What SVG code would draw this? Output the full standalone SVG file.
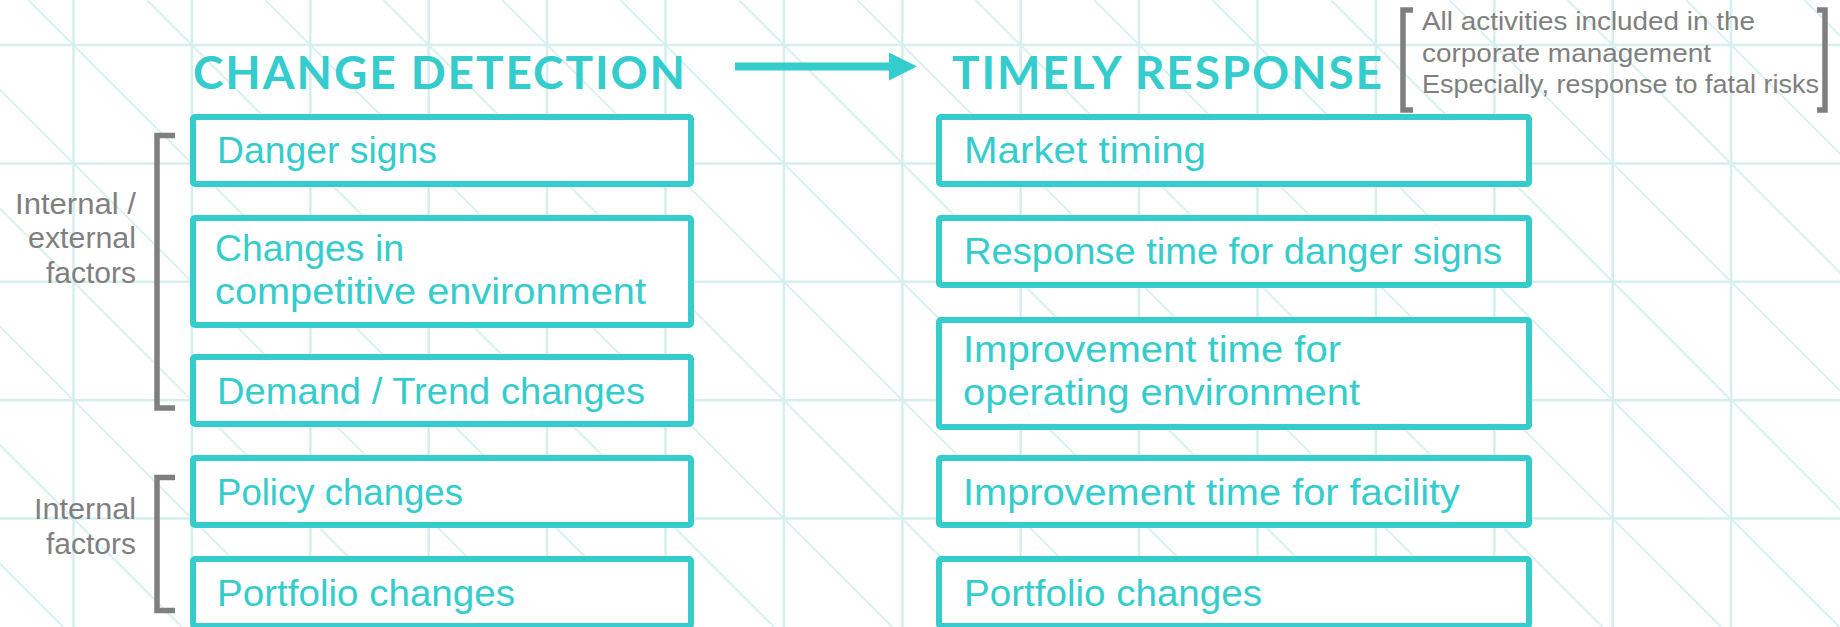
<svg xmlns="http://www.w3.org/2000/svg" width="1840" height="627" viewBox="0 0 1840 627">
  <style>
    .grid { stroke: #d4efed; stroke-width: 2.5; fill: none; }
    .diag { stroke: #daf1ef; stroke-width: 2; fill: none; }
    .box { fill: #ffffff; stroke: #34cccc; stroke-width: 6; }
    .title { font-family: Lato, "Noto Sans", sans-serif; font-weight: 700; font-size: 46px; fill: #34cccc; }
    .item { font-family: "Liberation Sans", Arial, sans-serif; font-size: 36px; fill: #34cccc; }
    .lbl { font-family: "Liberation Sans", Arial, sans-serif; font-size: 29px; fill: #7f7f7f; text-anchor: end; }
    .note { font-family: "Liberation Sans", Arial, sans-serif; font-size: 26px; fill: #7f7f7f; }
    .brk { fill: none; stroke: #7f7f7f; stroke-width: 5.5; stroke-linejoin: miter; }
    .conn { fill: none; stroke: #34cccc; stroke-width: 8; }
  </style>
  <defs>
    <marker id="ah" viewBox="0 0 28 28" markerUnits="userSpaceOnUse" markerWidth="28" markerHeight="28" refX="1" refY="14" orient="auto">
      <path d="M0,0 L28,14 L0,28 z" fill="#34cccc"/>
    </marker>
  </defs>
  <rect width="1840" height="627" fill="#ffffff"/>
  <g id="background-grid">
    <path class="diag" d="M-563.5 0 L63.5 627 M-445.1 0 L181.9 627 M-326.7 0 L300.3 627 M-208.3 0 L418.7 627 M-89.9 0 L537.1 627 M28.5 0 L655.5 627 M146.9 0 L773.9 627 M265.3 0 L892.3 627 M383.7 0 L1010.7 627 M502.1 0 L1129.1 627 M620.5 0 L1247.5 627 M738.9 0 L1365.9 627 M857.3 0 L1484.3 627 M975.7 0 L1602.7 627 M1094.1 0 L1721.1 627 M1212.5 0 L1839.5 627 M1330.9 0 L1957.9 627 M1449.3 0 L2076.3 627 M1567.7 0 L2194.7 627 M1686.1 0 L2313.1 627 M1804.5 0 L2431.5 627"/>
    <path class="grid" d="M73.5 0 V627 M191.9 0 V627 M310.3 0 V627 M428.7 0 V627 M547.1 0 V627 M665.5 0 V627 M783.9 0 V627 M902.3 0 V627 M1020.7 0 V627 M1139.1 0 V627 M1257.5 0 V627 M1375.9 0 V627 M1494.3 0 V627 M1612.7 0 V627 M1731.1 0 V627"/>
    <path class="grid" d="M0 45 H1840 M0 163.4 H1840 M0 281.8 H1840 M0 400.2 H1840 M0 518.6 H1840"/>
  </g>

  <g id="connectors">
    <path class="conn" d="M735 66.5 H890" marker-end="url(#ah)"/>
  </g>

  <g id="title-change-detection">
    <text class="title" x="193" y="89" textLength="492" lengthAdjust="spacing">CHANGE DETECTION</text>
  </g>
  <g id="title-timely-response">
    <text class="title" x="952" y="89" textLength="430" lengthAdjust="spacing">TIMELY RESPONSE</text>
  </g>

  <g id="note-corporate">
    <path class="brk" d="M1413 10 H1403 V110 H1413"/>
    <path class="brk" d="M1817 10 H1825 V110 H1817"/>
    <text class="note" x="1422" y="30" textLength="333" lengthAdjust="spacingAndGlyphs">All activities included in the</text>
    <text class="note" x="1422" y="61.5" textLength="289" lengthAdjust="spacingAndGlyphs">corporate management</text>
    <text class="note" x="1422" y="93" textLength="397" lengthAdjust="spacingAndGlyphs">Especially, response to fatal risks</text>
  </g>

  <g id="group-internal-external">
    <path class="brk" d="M175 135.5 H157 V408 H175"/>
    <text class="lbl" x="136" y="214" textLength="121" lengthAdjust="spacingAndGlyphs">Internal /</text>
    <text class="lbl" x="136" y="248" textLength="108" lengthAdjust="spacingAndGlyphs">external</text>
    <text class="lbl" x="136" y="283" textLength="90" lengthAdjust="spacingAndGlyphs">factors</text>
  </g>
  <g id="group-internal">
    <path class="brk" d="M175 477.5 H157 V610.5 H175"/>
    <text class="lbl" x="136" y="519" textLength="102" lengthAdjust="spacingAndGlyphs">Internal</text>
    <text class="lbl" x="136" y="554" textLength="90" lengthAdjust="spacingAndGlyphs">factors</text>
  </g>

  <g id="cd-danger-signs">
    <rect class="box" x="193" y="117" width="498" height="67" rx="2"/>
    <text class="item" x="217" y="163" textLength="220" lengthAdjust="spacingAndGlyphs">Danger signs</text>
  </g>
  <g id="cd-competitive-environment">
    <rect class="box" x="193" y="218" width="498" height="107" rx="2"/>
    <text class="item" x="215" y="261" textLength="189" lengthAdjust="spacingAndGlyphs">Changes in</text>
    <text class="item" x="215" y="304" textLength="431" lengthAdjust="spacingAndGlyphs">competitive environment</text>
  </g>
  <g id="cd-demand-trend">
    <rect class="box" x="193" y="357" width="498" height="67" rx="2"/>
    <text class="item" x="217" y="403.5" textLength="428" lengthAdjust="spacingAndGlyphs">Demand / Trend changes</text>
  </g>
  <g id="cd-policy">
    <rect class="box" x="193" y="458" width="498" height="67" rx="2"/>
    <text class="item" x="217" y="504.5" textLength="246" lengthAdjust="spacingAndGlyphs">Policy changes</text>
  </g>
  <g id="cd-portfolio">
    <rect class="box" x="193" y="559" width="498" height="67" rx="2"/>
    <text class="item" x="217" y="605.5" textLength="298" lengthAdjust="spacingAndGlyphs">Portfolio changes</text>
  </g>

  <g id="tr-market-timing">
    <rect class="box" x="939" y="117" width="590" height="67" rx="2"/>
    <text class="item" x="964" y="163" textLength="242" lengthAdjust="spacingAndGlyphs">Market timing</text>
  </g>
  <g id="tr-response-time">
    <rect class="box" x="939" y="218" width="590" height="67" rx="2"/>
    <text class="item" x="964" y="263.5" textLength="538" lengthAdjust="spacingAndGlyphs">Response time for danger signs</text>
  </g>
  <g id="tr-operating-environment">
    <rect class="box" x="939" y="320" width="590" height="107" rx="2"/>
    <text class="item" x="963" y="362" textLength="378" lengthAdjust="spacingAndGlyphs">Improvement time for</text>
    <text class="item" x="963" y="405" textLength="397" lengthAdjust="spacingAndGlyphs">operating environment</text>
  </g>
  <g id="tr-facility">
    <rect class="box" x="939" y="458" width="590" height="67" rx="2"/>
    <text class="item" x="963" y="504.5" textLength="497" lengthAdjust="spacingAndGlyphs">Improvement time for facility</text>
  </g>
  <g id="tr-portfolio">
    <rect class="box" x="939" y="559" width="590" height="67" rx="2"/>
    <text class="item" x="964" y="605.5" textLength="298" lengthAdjust="spacingAndGlyphs">Portfolio changes</text>
  </g>
</svg>
